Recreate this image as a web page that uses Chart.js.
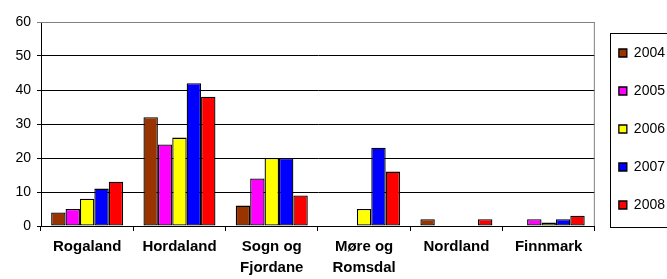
<!DOCTYPE html>
<html>
<head>
<meta charset="utf-8">
<script src="https://cdn.jsdelivr.net/npm/chart.js@4"></script>
<style>
  html, body { margin: 0; padding: 0; background: #fff; overflow: hidden; }
  #wrap { width: 667px; height: 279px; overflow: hidden; }
  #wrap div { width: 690px; height: 279px; position: relative; }
</style>
</head>
<body>
<div id="wrap"><div><canvas id="chart"></canvas></div></div>
<script>
// categories (counties) and one array per year
const counties = ['Rogaland', 'Hordaland', ['Sogn og', 'Fjordane'], ['Møre og', 'Romsdal'], 'Nordland', 'Finnmark'];
const y2004 = [4, 32, 6, 0, 2, 0];
const y2005 = [5, 24, 14, 0, 0, 2];
const y2006 = [8, 26, 20, 5, 0, 1];
const y2007 = [11, 42, 20, 23, 0, 2];
const y2008 = [13, 38, 9, 16, 2, 3];
const yTicks = [0, 10, 20, 30, 40, 50, 60];

const series = [
	{ label: '2004', data: y2004, color: '#993300' },
	{ label: '2005', data: y2005, color: '#ff00ff' },
	{ label: '2006', data: y2006, color: '#ffff00' },
	{ label: '2007', data: y2007, color: '#0000ff' },
	{ label: '2008', data: y2008, color: '#ff0000' }
];

Chart.defaults.font.family = 'Arial, "Liberation Sans", sans-serif';
Chart.defaults.color = '#000';

// grey frame on top/right of plot area + box around legend
const frames = {
	id: 'frames',
	beforeDatasetsDraw(chart) {
		const { ctx, chartArea: a } = chart;
		ctx.save();
		ctx.strokeStyle = '#808080';
		ctx.lineWidth = 1;
		ctx.beginPath();
		ctx.moveTo(a.left, a.top + 0.5);
		ctx.lineTo(a.right - 0.5, a.top + 0.5);
		ctx.lineTo(a.right - 0.5, a.bottom);
		ctx.stroke();
		ctx.restore();
	},
	afterDraw(chart) {
		const lg = chart.legend;
		if (!lg || !lg.legendHitBoxes.length) return;
		const hb = lg.legendHitBoxes;
		const top = Math.min(...hb.map(h => h.top)) - 13;
		const bottom = Math.max(...hb.map(h => h.top + h.height)) + 15;
		const left = Math.min(...hb.map(h => h.left)) - 9;
		const ctx = chart.ctx;
		ctx.save();
		ctx.strokeStyle = '#000';
		ctx.lineWidth = 1;
		ctx.strokeRect(Math.round(left) + 0.5, Math.round(top) + 0.5, 80, Math.round(bottom - top));
		ctx.restore();
	}
};

new Chart(document.getElementById('chart'), {
	type: 'bar',
	data: {
		labels: counties,
		datasets: series.map(s => ({
			label: s.label,
			data: s.data,
			backgroundColor: s.color,
			borderColor: '#000',
			borderWidth: 1.3,
			borderSkipped: false,
			categoryPercentage: 0.78,
			barPercentage: 1
		}))
	},
	options: {
		responsive: true,
		maintainAspectRatio: false,
		animation: false,
		layout: { padding: { left: 0, right: 15, top: 22, bottom: 0 } },
		plugins: {
			legend: {
				position: 'right',
				align: 'start',
				labels: {
					boxWidth: 8,
					boxHeight: 8,
					padding: 24,
					font: { size: 14 },
					color: '#000'
				}
			},
			tooltip: { enabled: false }
		},
		scales: {
			x: {
				offset: true,
				grid: { drawOnChartArea: false, drawTicks: true, tickLength: 5, offset: true, color: '#000' },
				border: { color: '#000', width: 1 },
				ticks: { font: { size: 15, weight: 'bold', lineHeight: 1.35 }, padding: 6, maxRotation: 0, autoSkip: false },
				afterFit(scale) { scale.height = 53; }
			},
			y: {
				min: 0,
				max: 60,
				afterBuildTicks(scale) { scale.ticks = yTicks.map(v => ({ value: v })); },
				grid: {
					color: ctx => (ctx.tick && ctx.tick.value === 60 ? '#808080' : '#000'),
					tickLength: 4,
					drawTicks: true
				},
				border: { color: '#000', width: 1 },
				ticks: { font: { size: 14 }, padding: 6 },
				afterFit(scale) { scale.width = 41; }
			}
		}
	},
	plugins: [frames]
});
</script>
</body>
</html>
